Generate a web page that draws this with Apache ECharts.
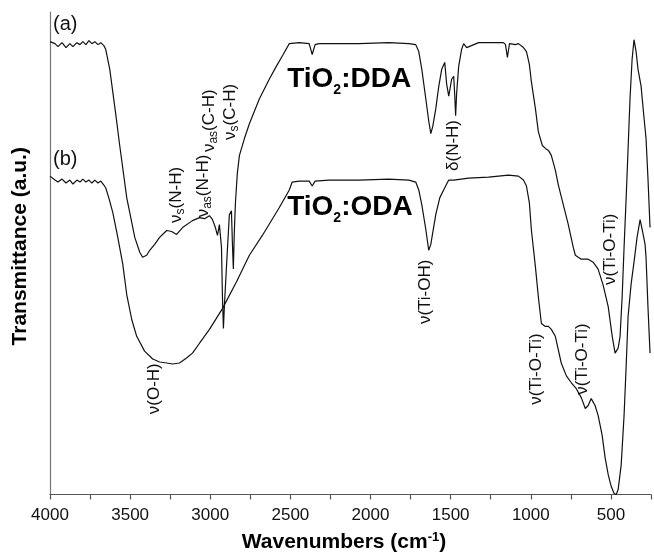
<!DOCTYPE html>
<html><head><meta charset="utf-8">
<script src="https://cdn.jsdelivr.net/npm/echarts@6/dist/echarts.min.js"></script>
<style>html,body{margin:0;padding:0;background:#fff}#c{width:654px;height:558px}</style>
</head><body><div id="c"></div>
<script>
// ---- data (wavenumber in cm-1, transmittance in arbitrary units) ----
const wnA = [4000,3969,3950,3925,3900,3876,3857,3832,3813,3795,3776,3757,3739,3720,3701,3683,3664,3652,3627,3590,3565,3521,3471,3440,3422,3397,3378,3347,3316,3272,3241,3210,3173,3111,3067,3036,3005,2986,2968,2955,2943,2930,2924,2918,2912,2899,2881,2868,2862,2856,2850,2843,2831,2818,2787,2756,2694,2632,2588,2545,2507,2445,2383,2364,2346,2321,2259,2072,1886,1761,1718,1699,1680,1655,1637,1624,1612,1593,1575,1556,1537,1525,1512,1506,1494,1481,1475,1469,1463,1450,1432,1419,1400,1388,1326,1233,1171,1158,1146,1133,1121,1096,1077,1046,1027,1009,996,971,953,928,909,890,872,847,828,797,766,735,722,704,685,660,642,611,580,549,517,492,474,455,443,430,418,405,393,381,368,356,343,331,312,293,281,269,256];
const tA = [114.5,114,113.25,114.25,113,114,113.25,114.25,113.75,114.5,113.75,114.75,114,114.5,113.75,114.25,113.5,112.5,107.5,96.25,88.25,75,65,61.25,60,60.5,61.75,63.25,65,66.75,66.5,65.75,67.5,69.25,70,69.75,70.5,69.5,67.5,65.5,68.25,62.5,50,42,47.5,57.5,70.75,71.75,63.75,57,66.25,73.75,81.25,85.75,90,93.75,100,105,108.25,111.25,114,114.25,114,111.25,113.75,114,114,114,114.25,114,113.75,112,107.5,100,94.5,91.25,93,97.5,103,107.5,109.25,103.75,100.75,100.5,105,105.75,101.25,95.75,101.25,108.25,112.5,114,113,113.5,114.25,114.25,114.25,113.75,110.5,114,114.5,113.75,114,113,112,108.75,104.25,97.5,91.75,88.25,87.5,87,85.75,82,78.25,73.25,68.25,62.5,60.5,60,59.5,59.5,59.5,58.75,57,53,47.5,40,35.75,37,40,50,62.5,75,87.5,100,110,115,112,107.5,103.25,95,90,80,67.5];

const wnB = [4000,3969,3950,3925,3900,3876,3857,3832,3813,3795,3776,3757,3739,3720,3701,3683,3664,3652,3633,3608,3577,3546,3521,3490,3459,3410,3359,3316,3272,3235,3192,3148,3111,3067,3005,2924,2837,2756,2675,2570,2507,2489,2445,2383,2364,2346,2259,2072,1886,1761,1718,1699,1680,1655,1637,1624,1593,1568,1544,1525,1512,1481,1388,1264,1139,1077,1046,1027,1009,996,971,953,934,909,890,872,847,810,778,747,716,685,660,642,623,599,580,555,536,517,498,480,467,455,436,418,405,393,374,356,337,318,299,287,281,269,256];
const tB = [80.5,79.5,79,79.75,78.75,79.5,78.5,79.5,79,79.75,79,79.5,78.75,79.5,78.75,79.25,78.25,77.5,75,71.25,65,58.25,50.5,44.25,40,36.25,34.25,33.5,33.25,33,33.25,34.5,35.75,38.25,41.75,47,53.75,60.5,65.5,72.5,77,79,79.25,79.25,78,79.25,79.5,79.5,79.75,79.5,79,77,73.25,67,61.75,63.25,70.75,75,77,78.5,79.5,79.5,80,80.25,80.75,80.5,79.5,78,73.75,66.75,57.5,50,43.25,42.5,42.5,41.75,40,33.25,30,28.25,26.75,24.5,21.75,22.5,24.25,22.5,20,15,9.25,5,2,0.25,0,1.25,7.5,20,32.5,45,53.25,58.75,65,69.5,65.75,63.25,60,47.5,35.75];

const xLabels = [4000,3500,3000,2500,2000,1500,1000,500];

// annotations: rich-text label, anchor wavenumber, anchor transmittance
const annoText = ['{t|ν(O-H)}','{t|ν}{s|s}{t|(N-H)}','{t|ν}{s|as}{t|(N-H)}','{t|ν}{s|as}{t|(C-H)}','{t|ν}{s|s}{t|(C-H)}','{t|δ(N-H)}','{t|ν(Ti-OH)}','{t|ν(Ti-O-Ti)}','{t|ν(Ti-O-Ti)}','{t|ν(Ti-O-Ti)}'];
const annoWn = [3335,3198,3030,2993,2862,1469,1643,953,660,486];
const annoT = [26.75,75.75,78,94.5,96.75,88.25,51.25,31.75,34.25,62];

const curveTags = ['(a)','(b)'];
const curveTagWn = [3981,3981];
const curveTagT = [118.75,84.75];

const sampleNames = ['{m|TiO}{d|2}{m|:DDA}','{m|TiO}{d|2}{m|:ODA}'];
const sampleWn = [2520,2520];
const sampleT = [104,71.75];

const FONT = '"Liberation Sans", Arial, Helvetica, sans-serif';
const chart = echarts.init(document.getElementById('c'), null, {renderer:'canvas'});

const option = {
  animation:false,
  backgroundColor:'#fff',
  grid:{left:50,right:1,top:12,bottom:58,containLabel:false},
  xAxis:{
    type:'value', inverse:true, min:250, max:4000, interval:250,
    name:'{b|Wavenumbers (cm}{sup|-1}{b|)}', nameLocation:'middle', nameGap:36,
    nameTextStyle:{padding:[0,13,0,0], rich:{
      b:{fontSize:21,fontWeight:'bold',fontFamily:FONT,color:'#000',lineHeight:24},
      sup:{fontSize:13,fontWeight:'bold',fontFamily:FONT,color:'#000',verticalAlign:'top',lineHeight:13}}},
    axisLine:{onZero:false,lineStyle:{color:'#555',width:1.2}},
    axisTick:{show:true,length:5,inside:false,lineStyle:{color:'#555',width:1.2}},
    axisLabel:{margin:12,fontSize:17,fontFamily:FONT,color:'#111',
      formatter:v=> xLabels.indexOf(v)>=0 ? String(v) : ''},
    splitLine:{show:false}
  },
  yAxis:{
    type:'value', min:0, max:122,
    name:'Transmittance (a.u.)', nameLocation:'middle', nameGap:19, nameRotate:90,
    nameTextStyle:{fontSize:21,fontWeight:'bold',fontFamily:FONT,color:'#000',padding:[0,0,0,14]},
    axisLine:{show:true,lineStyle:{color:'#777',width:1.2}},
    axisTick:{show:false}, axisLabel:{show:false}, splitLine:{show:false}
  },
  series:[
    {type:'line',name:'TiO2:DDA',data:wnA.map((w,i)=>[w,tA[i]]),showSymbol:false,
      lineStyle:{color:'#111',width:1.2}},
    {type:'line',name:'TiO2:ODA',data:wnB.map((w,i)=>[w,tB[i]]),showSymbol:false,
      lineStyle:{color:'#111',width:1.2}}
  ]
};
chart.setOption(option);

const annoRich = {
  t:{fontSize:17,fontFamily:FONT,fill:'#111',lineHeight:17,padding:[0,0,5,0]},
  s:{fontSize:12,fontFamily:FONT,fill:'#111',lineHeight:12,verticalAlign:'bottom'}
};
const graphics = [];
annoText.forEach((txt,i)=>{
  const p = chart.convertToPixel({gridIndex:0},[annoWn[i],annoT[i]]);
  graphics.push({type:'text',x:p[0],y:p[1],rotation:Math.PI/2,
    style:{text:txt,rich:annoRich,align:'center',verticalAlign:'middle'}});
});
curveTags.forEach((txt,i)=>{
  const p = chart.convertToPixel({gridIndex:0},[curveTagWn[i],curveTagT[i]]);
  graphics.push({type:'text',x:p[0],y:p[1],
    style:{text:txt,fontSize:20,fontFamily:FONT,fill:'#111',align:'left',verticalAlign:'middle'}});
});
sampleNames.forEach((txt,i)=>{
  const p = chart.convertToPixel({gridIndex:0},[sampleWn[i],sampleT[i]]);
  graphics.push({type:'text',x:p[0],y:p[1],
    style:{text:txt,align:'left',verticalAlign:'middle',rich:{
      m:{fontSize:28,fontWeight:'bold',fontFamily:FONT,fill:'#000',lineHeight:28,padding:[0,0,7,0]},
      d:{fontSize:14,fontWeight:'bold',fontFamily:FONT,fill:'#000',lineHeight:14,verticalAlign:'bottom'}}}});
});
chart.setOption({graphic:graphics});
</script>
</body></html>
